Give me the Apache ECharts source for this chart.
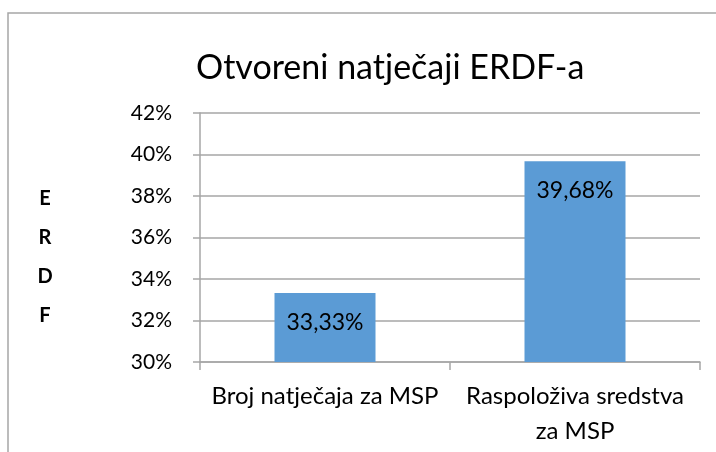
<!DOCTYPE html>
<html>
<head>
<meta charset="utf-8">
<script src="https://cdn.jsdelivr.net/npm/echarts@6/dist/echarts.min.js"></script>
<style>
  html, body { margin: 0; padding: 0; background: #fff; }
  #chart { width: 716px; height: 452px; }
</style>
</head>
<body>
<div id="chart"></div>
<script>
// Chart data
const titleText = 'Otvoreni natječaji ERDF-a';
const categories = ['Broj natječaja za MSP', 'Raspoloživa sredstva\nza MSP'];
const values = [33.33, 39.68];
const axisLetters = ['E', 'R', 'D', 'F'];
const yMin = 30, yMax = 42, yStep = 2;

const fontFam = 'Lato, "Open Sans", sans-serif';
const gray = '#a6a6a6';

const chart = echarts.init(document.getElementById('chart'));

chart.setOption({
	animation: false,
	title: {
		text: titleText,
		left: 191,
		top: 46,
		textStyle: { fontFamily: fontFam, fontSize: 34, fontWeight: 'normal', color: '#000' }
	},
	graphic: [{
		type: 'rect',
		shape: { x: 8, y: 13, width: 800, height: 600 },
		style: { fill: 'none', stroke: gray, lineWidth: 1.5 },
		silent: true
	}],
	grid: { left: 200, right: 16, top: 113, bottom: 90 },
	xAxis: {
		type: 'category',
		data: categories,
		axisLine: { lineStyle: { color: gray, width: 1.5 } },
		axisTick: { show: true, length: 8, lineStyle: { color: gray, width: 1.5 } },
		axisLabel: { interval: 0, margin: 17, fontFamily: fontFam, fontSize: 24, color: '#000', lineHeight: 35 }
	},
	yAxis: {
		type: 'value',
		min: yMin, max: yMax, interval: yStep,
		// leading blank line pushes the stacked letters a bit below the middle, like the original
		name: '\n' + axisLetters.join('\n'),
		nameLocation: 'middle',
		nameRotate: 0,
		nameGap: 155,
		nameTextStyle: {
			fontFamily: fontFam, fontSize: 20, fontWeight: 'bold', color: '#000',
			lineHeight: 39, align: 'center'
		},
		axisLine: { show: true, lineStyle: { color: gray, width: 1.5 } },
		axisTick: { show: true, length: 7, lineStyle: { color: gray, width: 1.5 } },
		splitLine: { lineStyle: { color: gray, width: 1.5 } },
		axisLabel: {
			margin: 28,
			fontFamily: fontFam, fontSize: 21, color: '#000',
			formatter: v => Math.round(v) + '%'
		}
	},
	series: [{
		type: 'bar',
		data: values,
		barWidth: 101,
		itemStyle: { color: '#5b9bd5' },
		label: {
			show: true,
			position: 'insideTop',
			distance: 18,
			fontFamily: fontFam, fontSize: 23, color: '#000',
			formatter: p => p.value.toFixed(2).replace('.', ',') + '%'
		}
	}]
});
</script>
</body>
</html>
